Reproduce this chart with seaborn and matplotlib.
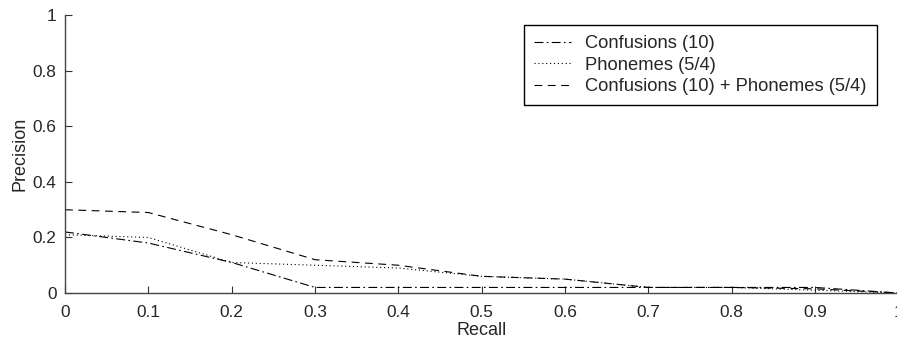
import matplotlib
matplotlib.use("Agg")
import matplotlib.pyplot as plt
import seaborn as sns
import pandas as pd

recall = [0.0, 0.1, 0.2, 0.3, 0.4, 0.5, 0.6, 0.7, 0.8, 0.9, 1.0]
confusions = [0.22, 0.18, 0.11, 0.02, 0.02, 0.02, 0.02, 0.02, 0.02, 0.02, 0.0]
phonemes = [0.21, 0.20, 0.11, 0.10, 0.09, 0.06, 0.05, 0.02, 0.02, 0.01, 0.0]
combined = [0.30, 0.29, 0.21, 0.12, 0.10, 0.06, 0.05, 0.02, 0.02, 0.015, 0.0]
labels = ["Confusions (10)", "Phonemes (5/4)", "Confusions (10) + Phonemes (5/4)"]
xticks = [0, 0.1, 0.2, 0.3, 0.4, 0.5, 0.6, 0.7, 0.8, 0.9, 1]
xticklabels = ["0", "0.1", "0.2", "0.3", "0.4", "0.5", "0.6", "0.7", "0.8", "0.9", "1"]
yticks = [0, 0.2, 0.4, 0.6, 0.8, 1]
yticklabels = ["0", "0.2", "0.4", "0.6", "0.8", "1"]

sns.set_style("white")
plt.rcParams['font.family'] = ['Liberation Sans', 'DejaVu Sans']

fig = plt.figure(figsize=(8.97, 3.42), dpi=100)
ax = fig.add_axes([0.0725, 0.1433, 0.929, 0.8114])

styles = [(0, (8, 3, 1.5, 3)), (0, (1, 2.5)), (0, (7, 5))]
for vals, lab, ls in zip([confusions, phonemes, combined], labels, styles):
    df = pd.DataFrame({"Recall": recall, "Precision": vals})
    sns.lineplot(data=df, x="Recall", y="Precision", ax=ax, color="black",
                 linewidth=0.8, linestyle=ls, label=lab)

ax.set_xlim(0, 1)
ax.set_ylim(0, 1)
ax.set_xticks(xticks)
ax.set_xticklabels(xticklabels)
ax.set_yticks(yticks)
ax.set_yticklabels(yticklabels)
ax.tick_params(direction="in", length=5, width=0.8, labelsize=12.4, color="#333333",
               left=True, bottom=True)
ax.tick_params(axis="x", pad=9)
ax.tick_params(axis="y", pad=6)
ax.set_xlabel("Recall", fontsize=13, labelpad=1)
ax.set_ylabel("Precision", fontsize=13, labelpad=3)
for s in ["top", "right"]:
    ax.spines[s].set_visible(False)
for s in ["left", "bottom"]:
    ax.spines[s].set_color("#444444")
    ax.spines[s].set_linewidth(1.0)

leg = ax.legend(loc="upper left", bbox_to_anchor=(524 / 897, 1 - 25 / 342),
                bbox_transform=fig.transFigure, fontsize=13.2, frameon=True,
                fancybox=False, borderpad=0.55, labelspacing=0.25,
                handlelength=2.0, handletextpad=0.8, borderaxespad=0)
leg.get_frame().set_edgecolor("black")
leg.get_frame().set_linewidth(1.0)
leg.get_frame().set_alpha(1)

fig.savefig("out.png", dpi=100)
